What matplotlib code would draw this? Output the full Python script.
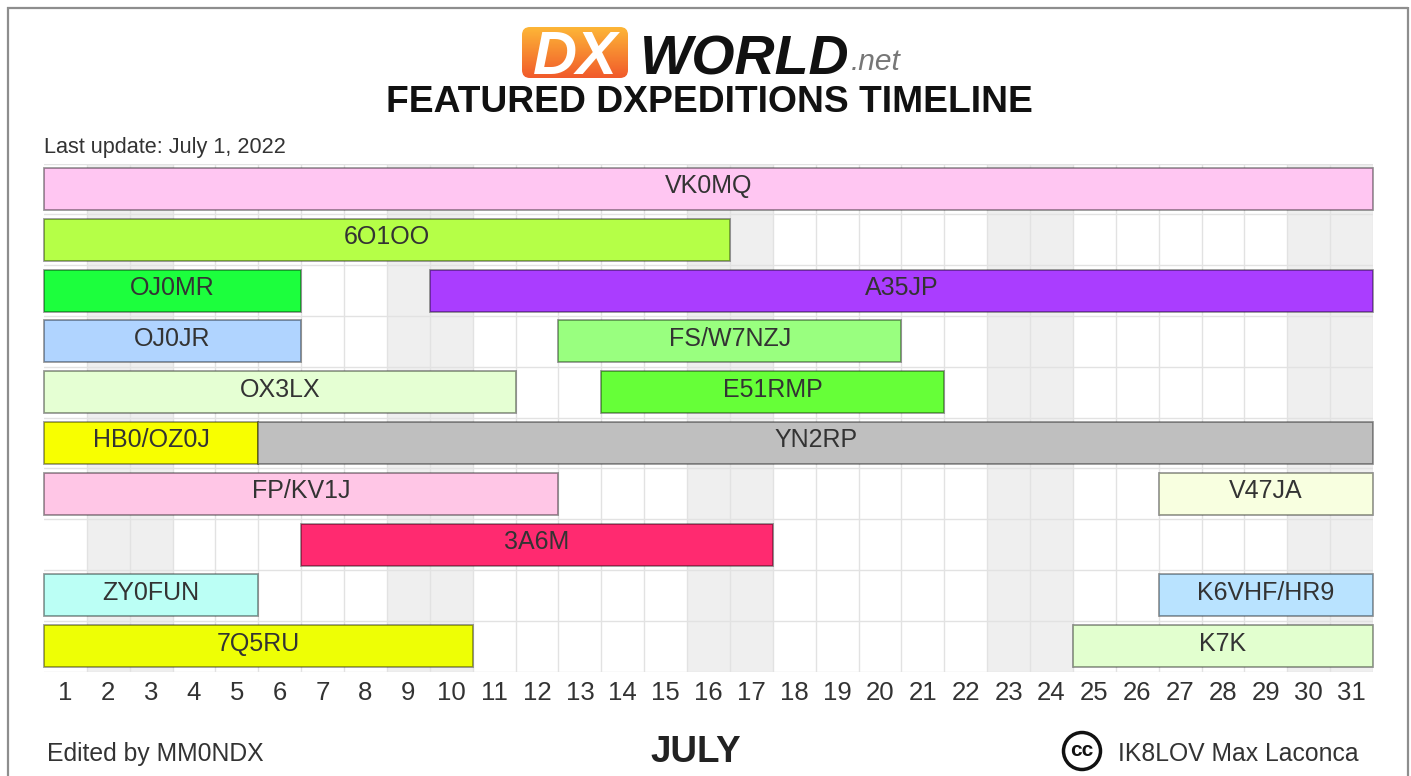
import numpy as np
import matplotlib
matplotlib.use("Agg")
import matplotlib.pyplot as plt
from matplotlib.patches import FancyBboxPatch, Circle

plt.rcParams['font.family'] = ['Liberation Sans', 'DejaVu Sans']

# calls, rows, start/end in days elapsed since the start of July
calls = ["VK0MQ", "6O1OO", "OJ0MR", "A35JP", "OJ0JR", "FS/W7NZJ", "OX3LX", "E51RMP", "HB0/OZ0J",
         "YN2RP", "FP/KV1J", "V47JA", "3A6M", "ZY0FUN", "K6VHF/HR9", "7Q5RU", "K7K"]
rows = [0, 1, 2, 2, 3, 3, 4, 4, 5, 5, 6, 6, 7, 8, 8, 9, 9]
starts = [0, 0, 0, 9, 0, 12, 0, 13, 0, 5, 0, 26, 6, 0, 26, 0, 24]
ends = [31, 16, 6, 31, 6, 20, 11, 21, 5, 31, 12, 31, 17, 5, 31, 10, 31]
colors = ["#FFC6F2", "#B5FF47", "#1CFF3D", "#AA3DFF", "#B0D4FF", "#99FF7F", "#E5FFD3", "#66FF38", "#F8FF00",
          "#BFBFBF", "#FFC6E6", "#F8FFE0", "#FF2A70", "#BBFFF5", "#B9E3FF", "#EEFF05", "#E2FFCF"]
days = list(range(1, 32))
weekend_days = [2, 3, 9, 10, 16, 17, 23, 24, 30, 31]
n_rows = 10

W, H = 1411, 776
fig = plt.figure(figsize=(W / 100, H / 100), dpi=100, facecolor="white")

# main chart area
ax = fig.add_axes([44 / W, 1 - 671.6 / H, 1329 / W, 508 / H])
ax.set_xlim(0, 31)
ax.set_ylim(n_rows - 0.5, -0.5)

for d in weekend_days:
    ax.axvspan(d - 1, d, color="#EFEFEF", lw=0, zorder=0)
for d in days:
    ax.axvline(d, color="#E2E2E2", lw=1, zorder=1)
for r in range(n_rows + 1):
    ax.axhline(r - 0.5, color="#E2E2E2", lw=1, zorder=1)

for c, r, s, e, col in zip(calls, rows, starts, ends, colors):
    ax.barh(r, e - s, left=s, height=0.83, color=col, edgecolor=(0, 0, 0, 0.4), lw=1.3, zorder=3, clip_on=False)
    ax.text((s + e) / 2, r - 0.05, c, ha="center", va="center", fontsize=18, color="#333333", zorder=4)

ax.set_xticks([d - 0.5 for d in days])
ax.set_xticklabels(days, fontsize=18.5, color="#333333")
ax.tick_params(axis="x", length=0, pad=7)
ax.set_yticks([])
for s in ax.spines.values():
    s.set_visible(False)

# everything outside the chart is placed in pixel coordinates
ov = fig.add_axes([0, 0, 1, 1], zorder=5)
ov.set_axis_off()
ov.patch.set_alpha(0)

# page frame
for xs, ys in [([7.5, 7.5], [7, 776]), ([7, 1408], [7.5, 7.5]), ([1408, 1408], [7, 776])]:
    ov.plot(xs, ys, color="#8E8E8E", lw=1.6, solid_capstyle="butt")

# logo
grad = np.linspace(0, 1, 64).reshape(-1, 1)
cmap = matplotlib.colors.LinearSegmentedColormap.from_list("dx", ["#FDB637", "#F15A2B"])
box = FancyBboxPatch((526, 31), 98, 43, boxstyle="round,pad=4,rounding_size=8", fc="none", ec="none")
ov.add_patch(box)
im = ov.imshow(grad, extent=(522, 628, 78, 27), cmap=cmap, aspect="auto", zorder=2)
im.set_clip_path(box)
ov.text(575, 59, "DX", color="white", fontsize=44, fontweight="bold", fontstyle="italic",
        ha="center", va="center", zorder=3)
ov.text(640, 60.5, "WORLD", color="#111111", fontsize=40, fontweight="bold", fontstyle="italic",
        ha="left", va="center", zorder=3)
ov.text(851, 62, ".net", color="#777777", fontsize=21.5, fontstyle="italic", ha="left", va="center", zorder=3)

ov.text(709, 102, "FEATURED DXPEDITIONS TIMELINE", fontsize=26.8, fontweight="bold", color="#111111",
        ha="center", va="center")
ov.text(44, 148, "Last update: July 1, 2022", fontsize=15.6, color="#333333", ha="left", va="center")
ov.text(47, 754, "Edited by MM0NDX", fontsize=17.8, color="#333333", ha="left", va="center")
ov.text(696, 752, "JULY", fontsize=26.5, fontweight="bold", color="#222222", ha="center", va="center")
ov.text(1118, 754, "IK8LOV Max Laconca", fontsize=17.8, color="#333333", ha="left", va="center")

# cc badge
ov.add_patch(Circle((1082, 751), 18.5, fc="white", ec="#111111", lw=2.5))
ov.text(1082, 750, "cc", fontsize=15, fontweight="bold", color="#111111", ha="center", va="center")

ov.set_xlim(0, W)
ov.set_ylim(H, 0)

fig.savefig("out.png", dpi=100)
